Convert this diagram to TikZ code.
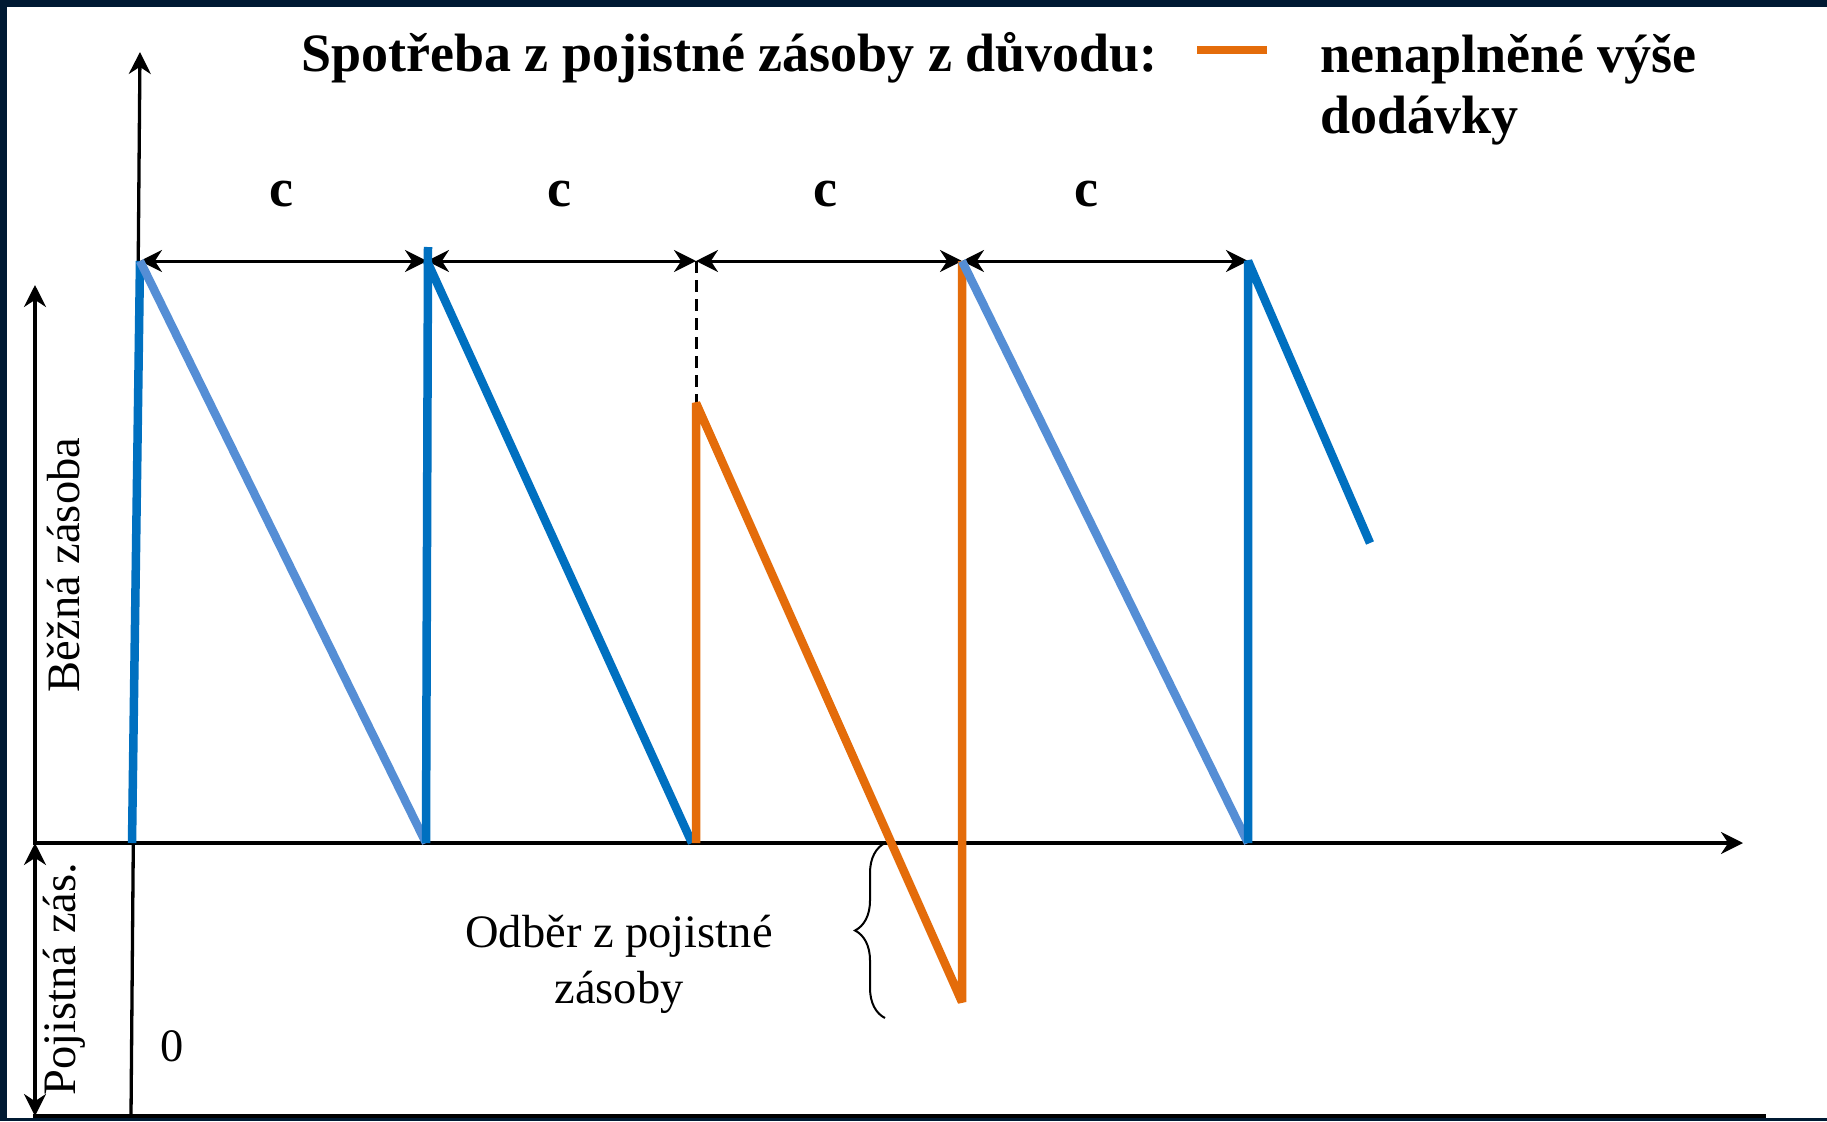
\documentclass[tikz,border=0pt]{standalone}
\usepackage{fontspec}
\setmainfont{Liberation Serif}
\usepackage{xcolor}
\usetikzlibrary{positioning, arrows.meta, calc, decorations.pathreplacing}

\definecolor{frameNavy}{RGB}{0,26,51}
\definecolor{stockBlue}{RGB}{0,112,192}
\definecolor{stockLight}{RGB}{85,142,213}
\definecolor{stockOrange}{RGB}{228,108,10}

\begin{document}
\begin{tikzpicture}[x=1pt, y=-1pt, >={Stealth[length=22pt,width=22pt]},
  axis/.style={line width=3.3pt},
  span/.style={<->,line width=3pt},
  blueline/.style={line width=8.5pt,line join=bevel,draw=stockBlue},
  lightline/.style={line width=8.5pt,line join=bevel,draw=stockLight},
  orangeline/.style={line width=8.5pt,line join=bevel,draw=stockOrange},
  lbl/.style={inner sep=0pt,font=\fontsize{46.5}{56}\selectfont},
  hdr/.style={inner sep=0pt,font=\fontsize{54}{62}\selectfont\bfseries}]
  % page and frame
  \fill[white] (0,0) rectangle (1827,1121);
  \useasboundingbox (0,0) rectangle (1827,1121);
  \fill[frameNavy] (0,0) rectangle (1827,7);
  \fill[frameNavy] (0,0) rectangle (7,1121);
  \fill[frameNavy] (0,1118) rectangle (1827,1121);

  % axes
  \coordinate (axbot) at (131,1116);
  \coordinate (axtop) at (140,52);
  \coordinate (hx0) at (33,843);
  \coordinate (hx1) at (1743,843);
  \coordinate (bl0) at (33,1116);
  \coordinate (bl1) at (1766,1116);
  \draw[axis,->] (axbot) -- (axtop);
  \draw[axis,->] (hx0) -- (hx1);
  \draw[axis] (bl0) -- (bl1);

  % left level arrows
  \coordinate (lv0) at (35,843);
  \coordinate (lv1) at (35,285);
  \coordinate (lv2) at (35,1116);
  \draw[axis,->] (lv0) -- (lv1);
  \draw[axis,<->] (lv0) -- (lv2);
  \node[lbl,rotate=90] (bezna) at (64,565) {Běžná zásoba};
  \node[lbl,rotate=90] (pojist) at (64,979) {Pojistná zás.};
  \node[lbl] (zero) at (172,1046) {0};

  % cycle points
  \coordinate (b1) at (132,843);
  \coordinate (p1) at (140,261);
  \coordinate (b2) at (426,843);
  \coordinate (t2) at (428,247);
  \coordinate (p2) at (427,261);
  \coordinate (b3) at (692,843);
  \coordinate (b3o) at (696,843);
  \coordinate (q3) at (696,403);
  \coordinate (p3) at (696,261);
  \coordinate (m4) at (962,1002);
  \coordinate (p4) at (962,261);
  \coordinate (b5) at (1248,843);
  \coordinate (p5) at (1248,261);
  \coordinate (e5) at (1370,543);

  % spans
  \draw[span] (p1) -- (p2);
  \draw[span] (p2) -- (p3);
  \draw[span] (p3) -- (p4);
  \draw[span] (p4) -- (p5);
  \draw[line width=3pt,dash pattern=on 12pt off 7pt] (p3) -- (q3);
  \node[hdr] (c1) at (281,194) {c};
  \node[hdr] (c2) at (559,194) {c};
  \node[hdr] (c3) at (825,194) {c};
  \node[hdr] (c4) at (1086,194) {c};

  % stock levels
  \draw[blueline] (b1) -- (p1);
  \draw[lightline] (p1) -- (b2);
  \draw[blueline] (b2) -- (t2);
  \draw[blueline] (p2) -- (b3);
  \draw[orangeline] (b3o) -- (q3) -- (m4) -- (p4);
  \draw[lightline] (p4) -- (b5);
  \draw[blueline] (b5) -- (p5) -- (e5);

  % safety stock draw
  \coordinate (br0) at (885,1018);
  \coordinate (br1) at (885,843);
  \draw[line width=2pt,decorate,decoration={brace,amplitude=30pt}] (br0) -- (br1);
  \node[lbl,align=center] (odber) at (619,964) {Odběr z pojistné\\zásoby};

  % title and legend
  \node[hdr,anchor=base west] (ttl) at (301,72) {Spotřeba z pojistné zásoby z důvodu:};
  \coordinate (lg0) at (1197,50);
  \coordinate (lg1) at (1267,50);
  \draw[orangeline] (lg0) -- (lg1);
  \node[hdr,anchor=base west,align=left] (lgtxt) at (1320,134) {nenaplněné výše\\dodávky};
\end{tikzpicture}
\end{document}
